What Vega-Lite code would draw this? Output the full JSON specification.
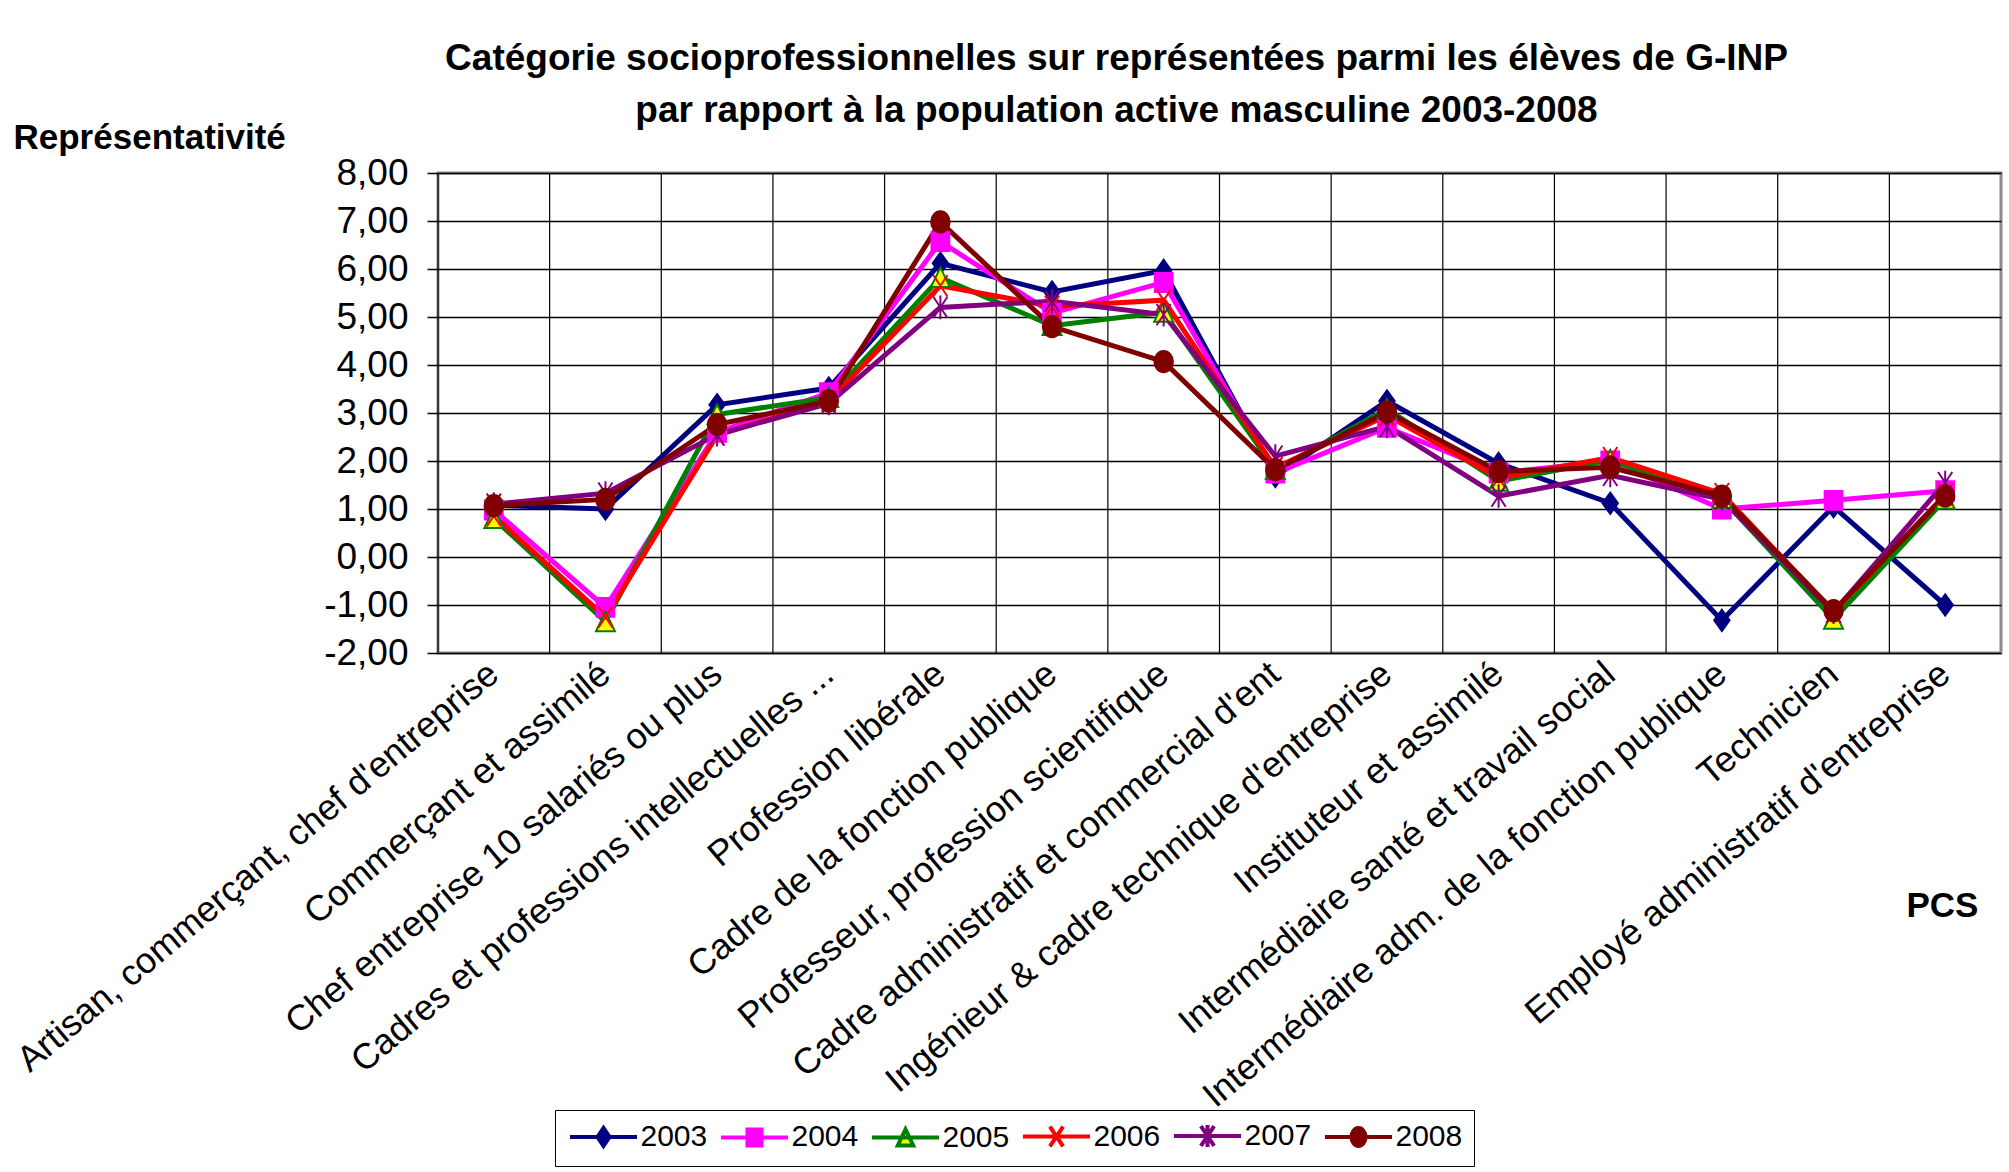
{
  "$schema": "https://vega.github.io/schema/vega-lite/v6.json",
  "autosize": "none",
  "width": 1563,
  "height": 480,
  "padding": {"left": 438, "top": 173, "right": 8, "bottom": 519},
  "background": "white",
  "config": {
    "font": "Liberation Sans",
    "view": {"stroke": "#8c8c8c", "strokeWidth": 3}
  },
  "title": {
    "text": ["Catégorie socioprofessionnelles sur représentées parmi les élèves de G-INP", "par rapport à la population active masculine 2003-2008"],
    "fontSize": 37,
    "fontWeight": "bold",
    "color": "black",
    "lineHeight": 52,
    "anchor": "middle",
    "frame": "group",
    "dx": -103,
    "offset": 0,
    "dy": 10
  },
  "data": {"values": [
    {"pcs": "Artisan, commerçant, chef d'entreprise", "ord": 1, "year": "2003", "v": 1.08},
    {"pcs": "Artisan, commerçant, chef d'entreprise", "ord": 1, "year": "2004", "v": 0.98},
    {"pcs": "Artisan, commerçant, chef d'entreprise", "ord": 1, "year": "2005", "v": 0.80},
    {"pcs": "Artisan, commerçant, chef d'entreprise", "ord": 1, "year": "2006", "v": 0.86},
    {"pcs": "Artisan, commerçant, chef d'entreprise", "ord": 1, "year": "2007", "v": 1.10},
    {"pcs": "Artisan, commerçant, chef d'entreprise", "ord": 1, "year": "2008", "v": 1.07},
    {"pcs": "Commerçant et assimilé", "ord": 2, "year": "2003", "v": 1.00},
    {"pcs": "Commerçant et assimilé", "ord": 2, "year": "2004", "v": -1.05},
    {"pcs": "Commerçant et assimilé", "ord": 2, "year": "2005", "v": -1.35},
    {"pcs": "Commerçant et assimilé", "ord": 2, "year": "2006", "v": -1.25},
    {"pcs": "Commerçant et assimilé", "ord": 2, "year": "2007", "v": 1.33},
    {"pcs": "Commerçant et assimilé", "ord": 2, "year": "2008", "v": 1.20},
    {"pcs": "Chef entreprise 10 salariés ou plus", "ord": 3, "year": "2003", "v": 3.17},
    {"pcs": "Chef entreprise 10 salariés ou plus", "ord": 3, "year": "2004", "v": 2.60},
    {"pcs": "Chef entreprise 10 salariés ou plus", "ord": 3, "year": "2005", "v": 2.97},
    {"pcs": "Chef entreprise 10 salariés ou plus", "ord": 3, "year": "2006", "v": 2.54},
    {"pcs": "Chef entreprise 10 salariés ou plus", "ord": 3, "year": "2007", "v": 2.55},
    {"pcs": "Chef entreprise 10 salariés ou plus", "ord": 3, "year": "2008", "v": 2.76},
    {"pcs": "Cadres et professions intellectuelles ...", "ord": 4, "year": "2003", "v": 3.52},
    {"pcs": "Cadres et professions intellectuelles ...", "ord": 4, "year": "2004", "v": 3.42},
    {"pcs": "Cadres et professions intellectuelles ...", "ord": 4, "year": "2005", "v": 3.32},
    {"pcs": "Cadres et professions intellectuelles ...", "ord": 4, "year": "2006", "v": 3.25},
    {"pcs": "Cadres et professions intellectuelles ...", "ord": 4, "year": "2007", "v": 3.20},
    {"pcs": "Cadres et professions intellectuelles ...", "ord": 4, "year": "2008", "v": 3.25},
    {"pcs": "Profession libérale", "ord": 5, "year": "2003", "v": 6.12},
    {"pcs": "Profession libérale", "ord": 5, "year": "2004", "v": 6.57},
    {"pcs": "Profession libérale", "ord": 5, "year": "2005", "v": 5.82},
    {"pcs": "Profession libérale", "ord": 5, "year": "2006", "v": 5.65},
    {"pcs": "Profession libérale", "ord": 5, "year": "2007", "v": 5.20},
    {"pcs": "Profession libérale", "ord": 5, "year": "2008", "v": 6.98},
    {"pcs": "Cadre de la fonction publique", "ord": 6, "year": "2003", "v": 5.52},
    {"pcs": "Cadre de la fonction publique", "ord": 6, "year": "2004", "v": 5.08},
    {"pcs": "Cadre de la fonction publique", "ord": 6, "year": "2005", "v": 4.82},
    {"pcs": "Cadre de la fonction publique", "ord": 6, "year": "2006", "v": 5.22},
    {"pcs": "Cadre de la fonction publique", "ord": 6, "year": "2007", "v": 5.33},
    {"pcs": "Cadre de la fonction publique", "ord": 6, "year": "2008", "v": 4.80},
    {"pcs": "Professeur, profession scientifique", "ord": 7, "year": "2003", "v": 5.97},
    {"pcs": "Professeur, profession scientifique", "ord": 7, "year": "2004", "v": 5.72},
    {"pcs": "Professeur, profession scientifique", "ord": 7, "year": "2005", "v": 5.10},
    {"pcs": "Professeur, profession scientifique", "ord": 7, "year": "2006", "v": 5.35},
    {"pcs": "Professeur, profession scientifique", "ord": 7, "year": "2007", "v": 5.05},
    {"pcs": "Professeur, profession scientifique", "ord": 7, "year": "2008", "v": 4.07},
    {"pcs": "Cadre administratif et commercial d'ent", "ord": 8, "year": "2003", "v": 1.68},
    {"pcs": "Cadre administratif et commercial d'ent", "ord": 8, "year": "2004", "v": 1.75},
    {"pcs": "Cadre administratif et commercial d'ent", "ord": 8, "year": "2005", "v": 1.82},
    {"pcs": "Cadre administratif et commercial d'ent", "ord": 8, "year": "2006", "v": 1.86},
    {"pcs": "Cadre administratif et commercial d'ent", "ord": 8, "year": "2007", "v": 2.10},
    {"pcs": "Cadre administratif et commercial d'ent", "ord": 8, "year": "2008", "v": 1.82},
    {"pcs": "Ingénieur & cadre technique d'entreprise", "ord": 9, "year": "2003", "v": 3.25},
    {"pcs": "Ingénieur & cadre technique d'entreprise", "ord": 9, "year": "2004", "v": 2.70},
    {"pcs": "Ingénieur & cadre technique d'entreprise", "ord": 9, "year": "2005", "v": 3.08},
    {"pcs": "Ingénieur & cadre technique d'entreprise", "ord": 9, "year": "2006", "v": 2.95},
    {"pcs": "Ingénieur & cadre technique d'entreprise", "ord": 9, "year": "2007", "v": 2.72},
    {"pcs": "Ingénieur & cadre technique d'entreprise", "ord": 9, "year": "2008", "v": 3.02},
    {"pcs": "Instituteur et assimilé", "ord": 10, "year": "2003", "v": 1.95},
    {"pcs": "Instituteur et assimilé", "ord": 10, "year": "2004", "v": 1.75},
    {"pcs": "Instituteur et assimilé", "ord": 10, "year": "2005", "v": 1.58},
    {"pcs": "Instituteur et assimilé", "ord": 10, "year": "2006", "v": 1.65},
    {"pcs": "Instituteur et assimilé", "ord": 10, "year": "2007", "v": 1.27},
    {"pcs": "Instituteur et assimilé", "ord": 10, "year": "2008", "v": 1.78},
    {"pcs": "Intermédiaire santé et travail social", "ord": 11, "year": "2003", "v": 1.12},
    {"pcs": "Intermédiaire santé et travail social", "ord": 11, "year": "2004", "v": 2.00},
    {"pcs": "Intermédiaire santé et travail social", "ord": 11, "year": "2005", "v": 2.02},
    {"pcs": "Intermédiaire santé et travail social", "ord": 11, "year": "2006", "v": 2.07},
    {"pcs": "Intermédiaire santé et travail social", "ord": 11, "year": "2007", "v": 1.70},
    {"pcs": "Intermédiaire santé et travail social", "ord": 11, "year": "2008", "v": 1.87},
    {"pcs": "Intermédiaire adm. de la fonction publique", "ord": 12, "year": "2003", "v": -1.32},
    {"pcs": "Intermédiaire adm. de la fonction publique", "ord": 12, "year": "2004", "v": 1.00},
    {"pcs": "Intermédiaire adm. de la fonction publique", "ord": 12, "year": "2005", "v": 1.22},
    {"pcs": "Intermédiaire adm. de la fonction publique", "ord": 12, "year": "2006", "v": 1.32},
    {"pcs": "Intermédiaire adm. de la fonction publique", "ord": 12, "year": "2007", "v": 1.20},
    {"pcs": "Intermédiaire adm. de la fonction publique", "ord": 12, "year": "2008", "v": 1.27},
    {"pcs": "Technicien", "ord": 13, "year": "2003", "v": 1.05},
    {"pcs": "Technicien", "ord": 13, "year": "2004", "v": 1.18},
    {"pcs": "Technicien", "ord": 13, "year": "2005", "v": -1.30},
    {"pcs": "Technicien", "ord": 13, "year": "2006", "v": -1.15},
    {"pcs": "Technicien", "ord": 13, "year": "2007", "v": -1.15},
    {"pcs": "Technicien", "ord": 13, "year": "2008", "v": -1.12},
    {"pcs": "Employé administratif d'entreprise", "ord": 14, "year": "2003", "v": -1.00},
    {"pcs": "Employé administratif d'entreprise", "ord": 14, "year": "2004", "v": 1.38},
    {"pcs": "Employé administratif d'entreprise", "ord": 14, "year": "2005", "v": 1.20},
    {"pcs": "Employé administratif d'entreprise", "ord": 14, "year": "2006", "v": 1.30},
    {"pcs": "Employé administratif d'entreprise", "ord": 14, "year": "2007", "v": 1.55},
    {"pcs": "Employé administratif d'entreprise", "ord": 14, "year": "2008", "v": 1.27}
  ]},
  "layer": [
    {
      "transform": [{"filter": {"field": "year", "equal": "2003"}}],
      "mark": {"type": "rule", "color": "black", "strokeWidth": 1.2},
      "encoding": {
        "x": {"field": "pcs", "type": "nominal", "bandPosition": 0,
          "scale": {"type": "band", "paddingInner": 0, "paddingOuter": 0, "domain": ["Artisan, commerçant, chef d'entreprise", "Commerçant et assimilé", "Chef entreprise 10 salariés ou plus", "Cadres et professions intellectuelles ...", "Profession libérale", "Cadre de la fonction publique", "Professeur, profession scientifique", "Cadre administratif et commercial d'ent", "Ingénieur & cadre technique d'entreprise", "Instituteur et assimilé", "Intermédiaire santé et travail social", "Intermédiaire adm. de la fonction publique", "Technicien", "Employé administratif d'entreprise"]}}
      }
    },
    {
      "mark": {"type": "line", "strokeWidth": 5},
      "encoding": {
        "x": {"field": "pcs", "type": "nominal",
          "axis": {"title": "PCS", "titleX": 1468, "titleY": 263, "titleAlign": "left", "titleBaseline": "alphabetic", "titleAngle": 0, "titleFontSize": 35, "titleFontWeight": "bold", "titleColor": "black",
            "labelAngle": -40, "labelAlign": "right", "labelBaseline": "middle", "labelFontSize": 36, "labelPadding": 16, "labelLimit": 1000, "labelOverlap": false, "labelBound": false, "labelColor": "black", "ticks": false, "domain": false, "grid": false}},
        "y": {"field": "v", "type": "quantitative", "scale": {"domain": [-2, 8], "nice": false, "zero": false},
          "axis": {"title": "Représentativité", "titleAngle": 0, "titleX": -425, "titleY": -25, "titleAlign": "left", "titleBaseline": "alphabetic", "titleFontSize": 35, "titleFontWeight": "bold", "titleColor": "black",
            "values": [-2, -1, 0, 1, 2, 3, 4, 5, 6, 7, 8],
            "labelExpr": "replace(replace(format(datum.value, '.2f'), '.', ','), '\u2212', '-')",
            "labelFontSize": 37, "labelColor": "black", "labelPadding": 19, "tickSize": 11, "tickColor": "black", "tickWidth": 1.5, "domain": false, "grid": true, "gridColor": "black", "gridWidth": 1.5}},
        "color": {"field": "year", "type": "nominal", "legend": null,
          "scale": {"domain": ["2003", "2004", "2005", "2006", "2007", "2008"], "range": ["#000080", "#FF00FF", "#008000", "#FF0000", "#800080", "#800000"]}},
        "order": {"field": "ord", "type": "quantitative"}
      }
    },
    {
      "mark": {"type": "point", "filled": true, "size": 560, "strokeWidth": 2, "opacity": 1},
      "encoding": {
        "x": {"field": "pcs", "type": "nominal"},
        "y": {"field": "v", "type": "quantitative"},
        "shape": {"field": "year", "type": "nominal", "legend": null,
          "scale": {"domain": ["2003", "2004", "2005", "2006", "2007", "2008"], "range": [
            "M0,-0.9L0.65,0L0,0.9L-0.65,0Z",
            "M-0.75,-0.8L0.75,-0.8L0.75,0.8L-0.75,0.8Z",
            "M0,-0.85L0.8,0.8L-0.8,0.8Z",
            "M-0.6,-0.9L0.6,0.9M-0.6,0.9L0.6,-0.9",
            "M-0.6,-0.9L0.6,0.9M-0.6,0.9L0.6,-0.9M0,-1L0,1",
            "M-0.78,0A0.78,0.9 0 1,0 0.78,0A0.78,0.9 0 1,0 -0.78,0Z"]}},
        "fill": {"field": "year", "type": "nominal", "legend": null,
          "scale": {"domain": ["2003", "2004", "2005", "2006", "2007", "2008"], "range": ["#000080", "#FF00FF", "#FFFF00", "#FF0000", "#800080", "#800000"]}},
        "stroke": {"field": "year", "type": "nominal", "legend": null,
          "scale": {"domain": ["2003", "2004", "2005", "2006", "2007", "2008"], "range": ["#000080", "#FF00FF", "#008000", "#FF0000", "#800080", "#800000"]}}
      }
    },
    {
      "mark": {"type": "point", "filled": true, "size": 484, "strokeWidth": 4, "opacity": 0},
      "encoding": {
        "x": {"field": "pcs", "type": "nominal"},
        "y": {"field": "v", "type": "quantitative"},
        "shape": {"field": "year", "type": "nominal",
          "legend": {"title": null, "orient": "none", "legendX": 117, "legendY": 937, "direction": "horizontal", "columns": 6, "labelFontSize": 30, "labelColor": "black", "symbolSize": 484, "symbolOffset": 22.5, "labelOffset": 22, "columnPadding": 4, "padding": 11, "strokeColor": "black", "fillColor": "white", "symbolStrokeWidth": 4, "symbolOpacity": 1},
          "scale": {"domain": ["2003", "2004", "2005", "2006", "2007", "2008"], "range": [
            "M-3.05,0L3.05,0M0,-0.82L0.55,0L0,0.82L-0.55,0Z",
            "M-3.05,0L3.05,0M-0.64,-0.73L0.64,-0.73L0.64,0.73L-0.64,0.73Z",
            "M-3.05,0L3.05,0M0,-0.75L0.7,0.72L-0.7,0.72Z",
            "M-3.05,0L3.05,0M-0.6,-0.9L0.6,0.9M-0.6,0.9L0.6,-0.9",
            "M-3.05,0L3.05,0M-0.6,-0.9L0.6,0.9M-0.6,0.9L0.6,-0.9M0,-1L0,1",
            "M-3.05,0L3.05,0M-0.64,0A0.64,0.82 0 1,0 0.64,0A0.64,0.82 0 1,0 -0.64,0Z"]}},
        "fill": {"field": "year", "type": "nominal",
          "legend": {"title": null, "orient": "none", "legendX": 117, "legendY": 937, "direction": "horizontal", "columns": 6, "labelFontSize": 30, "labelColor": "black", "symbolSize": 484, "symbolOffset": 22.5, "labelOffset": 22, "columnPadding": 4, "padding": 11, "strokeColor": "black", "fillColor": "white", "symbolStrokeWidth": 4, "symbolOpacity": 1},
          "scale": {"domain": ["2003", "2004", "2005", "2006", "2007", "2008"], "range": ["#000080", "#FF00FF", "#FFFF00", "#FF0000", "#800080", "#800000"]}},
        "stroke": {"field": "year", "type": "nominal",
          "legend": {"title": null, "orient": "none", "legendX": 117, "legendY": 937, "direction": "horizontal", "columns": 6, "labelFontSize": 30, "labelColor": "black", "symbolSize": 484, "symbolOffset": 22.5, "labelOffset": 22, "columnPadding": 4, "padding": 11, "strokeColor": "black", "fillColor": "white", "symbolStrokeWidth": 4, "symbolOpacity": 1},
          "scale": {"domain": ["2003", "2004", "2005", "2006", "2007", "2008"], "range": ["#000080", "#FF00FF", "#008000", "#FF0000", "#800080", "#800000"]}}
      }
    }
  ],
  "resolve": {"scale": {"fill": "independent", "stroke": "independent", "shape": "independent"}}
}
